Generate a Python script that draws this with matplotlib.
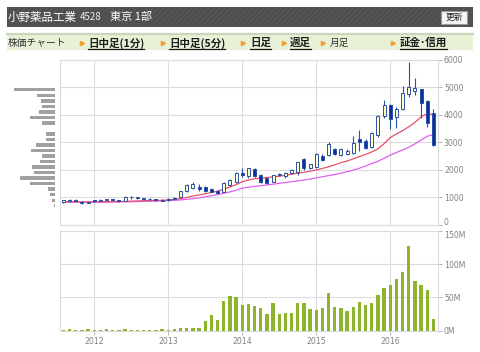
import matplotlib
matplotlib.use("Agg")
import matplotlib.pyplot as plt
from matplotlib.patches import Rectangle
from matplotlib.lines import Line2D

# ---------------- data ----------------
months = list(range(61))  # Aug 2011 .. Aug 2016 (monthly)
year_ticks = [5, 17, 29, 41, 53]
year_labels = ["2012", "2013", "2014", "2015", "2016"]

opens = [850, 880, 905, 850, 800, 890, 870, 900, 935, 900, 880, 1000, 990, 965, 955, 940, 900,
         900, 955, 1030, 1230, 1350, 1390, 1390, 1300, 1240, 1200, 1450, 1550,
         1890, 1760, 2030, 1830, 1700, 1570, 1820, 1760, 1890, 1930, 2390, 2060,
         2110, 2500, 2540, 2740, 2540, 2590, 2620, 3100, 3050, 2840, 3260, 3960,
         4350, 3900, 4200, 4740, 4850, 4920, 4490, 4050]
highs = [900, 930, 930, 870, 860, 910, 930, 950, 950, 910, 1040, 1040, 1020, 990, 980, 960, 940,
         970, 1010, 1250, 1480, 1560, 1500, 1420, 1330, 1280, 1550, 1650, 1920,
         2050, 2080, 2080, 1860, 1720, 1830, 1880, 1920, 2020, 2290, 2420, 2220,
         2600, 2560, 3000, 2800, 2780, 2750, 3210, 3430, 3120, 3380, 4000, 4530,
         4380, 4290, 5040, 5920, 5330, 4930, 4520, 4190]
lows = [800, 850, 860, 770, 780, 840, 860, 880, 890, 850, 860, 960, 950, 920, 920, 880, 860,
        880, 930, 1000, 1200, 1300, 1250, 1200, 1180, 1150, 1180, 1420, 1520,
        1750, 1700, 1750, 1540, 1500, 1550, 1780, 1720, 1850, 1800, 2000, 2030,
        2080, 2330, 2500, 2520, 2500, 2540, 2560, 2700, 2740, 2800, 3200, 3870,
        3480, 3525, 4180, 4650, 4710, 3880, 3560, 2870]
closes = [890, 910, 880, 790, 840, 860, 910, 935, 905, 865, 1020, 1010, 985, 935, 930, 905, 870,
          955, 990, 1220, 1450, 1490, 1300, 1240, 1200, 1170, 1520, 1620, 1900,
          1820, 2050, 1780, 1570, 1530, 1810, 1840, 1900, 2000, 2270, 2050, 2200,
          2560, 2360, 2950, 2560, 2740, 2700, 2990, 3000, 2780, 3350, 3950, 4350,
          3830, 4200, 4800, 4990, 4950, 4430, 3680, 2900]

ma_red = [845, 840, 838, 835, 832, 835, 838, 842, 848, 852, 858, 865, 872, 880, 886, 892, 897,
          905, 925, 960, 1000, 1050, 1090, 1130, 1180, 1230, 1300, 1380, 1460,
          1570, 1630, 1680, 1700, 1720, 1745, 1770, 1800, 1840, 1880, 1910, 1950,
          1995, 2050, 2110, 2180, 2260, 2320, 2400, 2480, 2560, 2650, 2760, 2950,
          3170, 3300, 3420, 3560, 3720, 3920, 4040, 4000]
ma_mag = [835, 832, 830, 828, 826, 826, 828, 830, 833, 836, 840, 845, 850, 856, 862, 868, 875,
          882, 895, 910, 930, 955, 985, 1020, 1060, 1100, 1150, 1200, 1260,
          1340, 1370, 1400, 1425, 1450, 1480, 1510, 1540, 1570, 1600, 1630, 1665,
          1710, 1750, 1790, 1830, 1880, 1930, 1990, 2060, 2140, 2230, 2310, 2420,
          2530, 2630, 2720, 2820, 2940, 3080, 3220, 3270]

volume_m = [1.5, 2.5, 1.5, 1.5, 2.5, 1.5, 1.5, 2.5, 1.5, 1.5, 2.5, 1.5, 1.5, 1.5, 1.5, 1.5, 2.0,
            1.5, 2.0, 3.5, 3.5, 3.5, 3.5, 14, 23, 16, 44.7, 52, 50.8,
            38, 40, 37, 34, 25, 41, 25, 26, 26, 42, 41, 32,
            31, 34, 57, 35, 34, 29, 36, 43, 38, 41, 53, 64,
            69, 77.5, 87.6, 126.8, 75, 68, 61, 18]

profile_prices = [4900, 4700, 4500, 4300, 4100, 3900, 3700, 3500, 3300, 3100, 2900, 2700,
                  2500, 2300, 2100, 1900, 1700, 1500, 1300, 1100, 900, 700]
profile_sizes = [41, 18, 14, 13, 16, 25, 12.7, 0, 8.7, 8.7, 18.7, 24.3,
                 13.3, 15.3, 23, 21, 35.3, 25, 6.7, 4.7, 3, 0.7]

price_ticks = [0, 1000, 2000, 3000, 4000, 5000, 6000]
vol_ticks = [0, 50, 100, 150]
vol_labels = ["0M", "50M", "100M", "150M"]

# ---------------- figure ----------------
W, H = 480, 352
plt.rcParams["hatch.linewidth"] = 0.6
fig = plt.figure(figsize=(4.8, 3.52), dpi=100)
fig.patch.set_facecolor("white")
JP = ["Noto Sans CJK JP", "DejaVu Sans"]

def fx(x):
    return x / W

def fy(y):
    return 1 - y / H

GRID = "#dcdcdc"
LBL = "#808080"

# header bar
fig.patches.append(Rectangle((fx(7), fy(27)), fx(473) - fx(7), 20 / H, transform=fig.transFigure,
                             facecolor="#4e4e4e", edgecolor="#5c5c5c", hatch="//////", lw=0))
fig.text(fx(8), fy(17), "小野薬品工業", color="white", fontsize=8.3, family=JP, va="center", ha="left")
fig.text(fx(80), fy(17), "4528", color="#f0f0f0", fontsize=7.0, family=JP, va="center", ha="left")
fig.text(fx(110), fy(17), "東京 1部", color="white", fontsize=8.0, family=JP, va="center", ha="left")
fig.patches.append(Rectangle((fx(441), fy(24)), 26 / W, 13 / H, transform=fig.transFigure,
                             facecolor="#f6f6f6", edgecolor="#999999", lw=0.8))
fig.text(fx(454), fy(17.5), "更新", color="#222222", fontsize=6.3, family=JP, va="center", ha="center")

# nav bar
fig.patches.append(Rectangle((fx(7), fy(50)), fx(473) - fx(7), 17 / H, transform=fig.transFigure,
                             facecolor="#e6f1d6", edgecolor="none"))
fig.add_artist(Line2D([fx(7), fx(473)], [fy(34), fy(34)], color="#c9d6bd", lw=1.6))
fig.text(fx(8), fy(43), "株価チャート", color="#333333", fontsize=7.0, family=JP, va="center", ha="left")
nav = [(88, "日中足(1分)", True), (169, "日中足(5分)", True), (250, "日足", True),
       (290, "週足", True), (330, "月足", False), (400, "証金･信用", True)]
tri_x = [82, 163, 243, 284, 323, 393]
for tx in tri_x:
    fig.add_artist(Line2D([fx(tx)], [fy(43)], marker=">", markersize=3, color="#f0a030", lw=0))
texts = []
for x0, s, bold in nav:
    t = fig.text(fx(x0), fy(43), s, color="#1a1a1a" if bold else "#333333", fontsize=7.6 if bold else 7.0,
                 family=JP, va="center", ha="left", fontweight="bold" if bold else "normal")
    texts.append((t, bold))
fig.canvas.draw()
r = fig.canvas.get_renderer()
for t, bold in texts:
    if bold:
        bb = t.get_window_extent(r)
        fig.add_artist(Line2D([bb.x0 / W, bb.x1 / W], [fy(49), fy(49)], color="#1a1a1a", lw=0.9))

# ---------------- price axes ----------------
xl = (-0.56, 60.69)
ax = fig.add_axes([fx(60), fy(225), fx(437.7) - fx(60), (225 - 59.5) / H])
ax.set_xlim(*xl)
ax.set_ylim(0, 6000)
for s in ax.spines.values():
    s.set_color(GRID)
    s.set_linewidth(0.8)
ax.set_yticks(price_ticks)
ax.set_yticklabels([str(v) for v in price_ticks])
ax.set_xticks(year_ticks)
ax.set_xticklabels([])
ax.yaxis.tick_right()
ax.tick_params(axis="y", length=3, width=0.6, color="#aaaaaa", labelsize=5.6, labelcolor=LBL, pad=1.5)
ax.tick_params(axis="x", length=0)
ax.grid(True, color=GRID, lw=0.8)
ax.set_axisbelow(True)
ax.get_yticklabels()[0].set_va("baseline")

ax.plot(months, ma_mag, color="#e060f0", lw=0.9, zorder=3)
ax.plot(months, ma_red, color="#e8506a", lw=0.9, zorder=3)
EDGE = "#2a4fa8"
for i in months:
    o, h, l, c = opens[i], highs[i], lows[i], closes[i]
    up = c >= o
    ax.vlines(i, l, h, color=EDGE, lw=0.8, zorder=4)
    ax.bar(i, max(abs(c - o), 25), bottom=min(o, c), width=0.5,
           color="#ffffc8" if up else "#0a3296", edgecolor=EDGE, lw=0.7, zorder=5)

# ---------------- volume profile ----------------
axp = fig.add_axes([0, fy(225), fx(55), (225 - 59.5) / H])
axp.set_ylim(0, 6000)
axp.set_xlim(55, 0)
axp.barh(profile_prices, profile_sizes, height=120, left=0, color="#a0a0a0")
axp.axis("off")

# ---------------- volume axes ----------------
axv = fig.add_axes([fx(60), fy(330.5), fx(437.7) - fx(60), (330.5 - 231) / H])
axv.set_xlim(*xl)
axv.set_ylim(0, 150)
for s in axv.spines.values():
    s.set_color(GRID)
    s.set_linewidth(0.8)
axv.set_yticks(vol_ticks)
axv.set_yticklabels(vol_labels)
axv.yaxis.tick_right()
axv.set_xticks(year_ticks)
axv.set_xticklabels(year_labels)
axv.tick_params(axis="y", length=3, width=0.6, color="#aaaaaa", labelsize=5.6, labelcolor=LBL, pad=1.5)
axv.tick_params(axis="x", length=3, width=0.6, color="#aaaaaa", labelsize=5.6, labelcolor=LBL, pad=2)
axv.grid(True, color=GRID, lw=0.8)
axv.set_axisbelow(True)
axv.bar(months, volume_m, width=0.55, color="#8cb42c", zorder=3)
axv.get_yticklabels()[-1].set_va("top")

fig.savefig("out.png", dpi=100, facecolor="white")
